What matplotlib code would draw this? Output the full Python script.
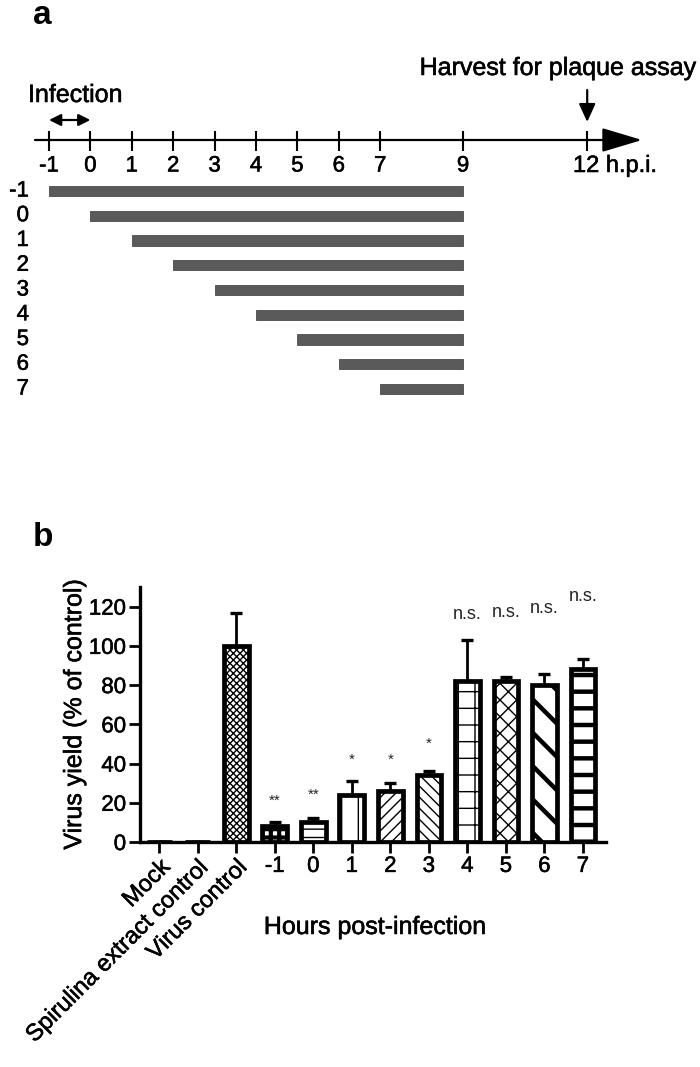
import matplotlib
matplotlib.use("Agg")
import matplotlib.pyplot as plt
import matplotlib.patheffects as pe
import matplotlib.transforms as mtrans
from matplotlib.text import Text
import numpy as np

plt.rcParams["font.family"] = ["Liberation Sans", "DejaVu Sans"]

# panel a: treatment windows (start hour of each row, all end at 9 h.p.i.)
row_labels = ["-1", "0", "1", "2", "3", "4", "5", "6", "7"]
row_starts = [-1, 0, 1, 2, 3, 4, 5, 6, 7]
row_end = 9
timeline_ticks = [-1, 0, 1, 2, 3, 4, 5, 6, 7, 9, 12]

# panel b: virus yield
categories = ["Mock", "Spirulina extract control", "Virus control",
              "-1", "0", "1", "2", "3", "4", "5", "6", "7"]
yield_pct = [0, 0, 100, 8, 10, 24, 26, 34, 82, 82, 80, 88]
yield_err = [0, 0, 17, 2, 2, 7, 4, 2, 21, 2, 5.5, 5.5]
signif = ["", "", "", "**", "**", "*", "*", "*", "n.s.", "n.s.", "n.s.", "n.s."]
signif_y = [0, 0, 0, 21, 24, 42, 42, 50, 116, 117, 119, 125]

W, H = 700, 1067
fig = plt.figure(figsize=(W / 100, H / 100), dpi=100)

# ---------------- panel a ----------------
px_per_h, x_m1 = 41.4, 49.0
row_px, row0_px = 24.75, 191.0
top_px = 430.0
axa = fig.add_axes([0, 1 - top_px / H, 1, top_px / H])
axa.set_xlim(-1 - x_m1 / px_per_h, -1 + (W - x_m1) / px_per_h)
axa.set_ylim(-1 + (top_px - row0_px) / row_px, -1 - row0_px / row_px)
axa.axis("off")


def hx(px):
    return -1 + (px - x_m1) / px_per_h


def ry(px):
    return -1 + (px - row0_px) / row_px


rows = np.arange(-1, 8)
axa.barh(rows, [row_end - s for s in row_starts], left=row_starts, height=0.42,
         color="#5a5a5a", edgecolor="#4a4a4a", linewidth=0.6)
for r, lab in zip(rows, row_labels):
    axa.text(hx(29), r, lab, ha="right", va="center", fontsize=16)

y_ax = ry(140)
axa.annotate("", xy=(hx(642), y_ax), xytext=(hx(35), y_ax),
             arrowprops=dict(arrowstyle="-|>,head_length=2.5,head_width=0.75",
                             lw=1.6, color="k", shrinkA=0, shrinkB=0,
                             mutation_scale=10))
for t in timeline_ticks:
    axa.plot([t, t], [ry(131), ry(151)], color="k", lw=1.5, solid_capstyle="butt")
    if t == 12:
        axa.text(hx(573), ry(166), "12 h.p.i.", ha="left", va="center", fontsize=17)
    else:
        axa.text(t, ry(166), str(t), ha="center", va="center", fontsize=16)

axa.annotate("", xy=(0, ry(120)), xytext=(-1, ry(120)),
             arrowprops=dict(arrowstyle="<|-|>,head_length=0.7,head_width=0.35",
                             lw=1.6, color="k", shrinkA=0, shrinkB=0,
                             mutation_scale=10))
axa.text(hx(28), ry(95), "Infection", ha="left", va="center", fontsize=18)
axa.annotate("", xy=(12, ry(122)), xytext=(12, ry(90)),
             arrowprops=dict(arrowstyle="-|>,head_length=1.1,head_width=0.5",
                             lw=1.6, color="k", shrinkA=0, shrinkB=0,
                             mutation_scale=10))
axa.text(hx(696), ry(68), "Harvest for plaque assay", ha="right", va="center", fontsize=18)
fig.text(42 / W, 1 - 16 / H, "a", ha="center", va="center", fontsize=24, weight="bold")

# ---------------- panel b ----------------
left, right, bot, top = 140, 606, 842, 587
axb = fig.add_axes([left / W, 1 - bot / H, (right - left) / W, (bot - top) / H])
x = np.arange(len(categories))
hatches = [None, None, "xxxxx", "++", "--", "|", "///", "\\\\\\", "+", "xx", "\\", "-"]
hatch_lw = [1, 1, 1.0, 3.0, 1.0, 1.0, 1.0, 1.0, 1.0, 1.0, 3.2, 3.2]

axb.errorbar(x, yield_pct, yerr=[np.zeros(len(x)), yield_err], fmt="none",
             ecolor="k", elinewidth=2.0, capsize=4.5, capthick=2.4, zorder=1)
bars = axb.bar(x, yield_pct, width=0.64, color="white", edgecolor="k",
               linewidth=3.4, zorder=2)
for b, h, lw in zip(bars, hatches, hatch_lw):
    if h:
        b.set_hatch(h)
        if hasattr(b, "set_hatch_linewidth"):
            b.set_hatch_linewidth(lw)

sig_texts = []
for xi, s, sy in zip(x, signif, signif_y):
    if s:
        sig_texts.append(axb.text(xi, sy, s, ha="center", va="center",
                                  fontsize=13 if s.startswith("n") else 11,
                                  color="#222222"))

axb.set_xlim(-0.5, 11.6)
axb.set_ylim(0, 130)
axb.set_yticks(range(0, 121, 20))
axb.set_xticks(x)
axb.set_xticklabels(categories)
shift = mtrans.ScaledTranslation(-9 / 100, -5 / 100, fig.dpi_scale_trans)
for i, lab in enumerate(axb.get_xticklabels()):
    if i < 3:
        lab.set_rotation(45)
        lab.set_ha("right")
        lab.set_rotation_mode("anchor")
        lab.set_fontsize(17)
        lab.set_transform(lab.get_transform() + shift)
    else:
        lab.set_fontsize(16)
for lab in axb.get_yticklabels():
    lab.set_fontsize(16)
for s in ["top", "right"]:
    axb.spines[s].set_visible(False)
for s in ["left", "bottom"]:
    axb.spines[s].set_linewidth(2.4)
axb.tick_params(axis="both", width=2.0, length=8, pad=2)
axb.set_ylabel("Virus yield (% of control)", fontsize=18, labelpad=2)
fig.text(375 / W, 1 - 927 / H, "Hours post-infection", ha="center", va="center", fontsize=18)
fig.text(43 / W, 1 - 537 / H, "b", ha="center", va="center", fontsize=24, weight="bold")

# the original lettering is a touch heavier than regular weight
for t in fig.findobj(Text):
    if t.get_text() and t.get_fontweight() != "bold" and t not in sig_texts:
        t.set_path_effects([pe.withStroke(linewidth=0.4, foreground=t.get_color())])

fig.savefig("out.png", dpi=100)
